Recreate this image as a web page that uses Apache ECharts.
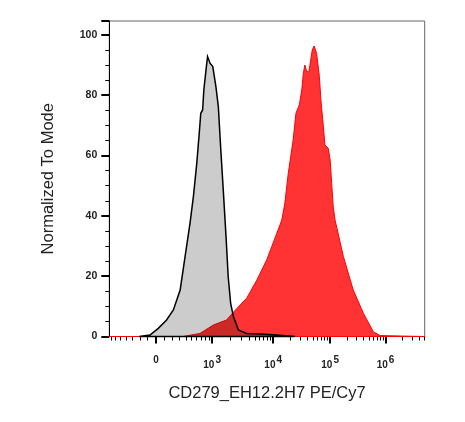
<!DOCTYPE html>
<html>
<head>
<meta charset="utf-8">
<script src="https://cdn.jsdelivr.net/npm/echarts@6/dist/echarts.min.js"></script>
<style>
html,body{margin:0;padding:0;background:#fff;}
#chart{width:465px;height:422px;}
</style>
</head>
<body>
<div id="chart"></div>
<script>
// histogram channels (0-1024 display scale) and normalized counts
var grayX = [97, 132, 159, 186, 208, 230, 246, 262, 273, 284, 292, 297, 303, 307, 314, 319, 327, 336, 346, 354, 362, 370, 379, 386, 394, 403, 419, 446, 489, 543, 603];
var grayY = [0, 0.5, 2.7, 5.5, 8.8, 15.4, 26.5, 37.5, 46.4, 57.4, 67.4, 74, 75.1, 81.8, 88.4, 92.8, 90.6, 89.5, 82.9, 76.2, 61.9, 48.6, 33.1, 19.8, 11, 6.6, 2.2, 1, 0.8, 0.5, 0];
var redX = [0, 240, 294, 338, 381, 414, 446, 479, 511, 543, 560, 570, 581, 589, 597, 606, 617, 625, 630, 635, 641, 648, 654, 659, 665, 673, 682, 687, 695, 700, 711, 717, 722, 727, 733, 760, 792, 825, 857, 879, 1024];
var redY = [0, 0, 1, 3.8, 5.5, 9.3, 12.7, 18.7, 25.4, 34, 38.6, 44.2, 54.1, 59.6, 65.2, 74, 76.8, 81.8, 87.3, 90, 87.8, 87.8, 91.7, 95, 96.3, 93.9, 86.2, 78.4, 69.6, 63.5, 62.4, 58.5, 50.8, 43, 38.6, 26.5, 15.4, 7.7, 1.6, 0.3, 0];

// x axis ticks (fluorescence values) and labels
var majorTicks = [0, 1e3, 1e4, 1e5, 1e6];
var majorLabels = ['0', '10{s|3}', '10{s|4}', '10{s|5}', '10{s|6}'];
var linearTicks = [-700, -600, -500, -400, -300, -200, -100, 100, 200, 300, 400, 500, 600, 700, 800, 900];
var decadeChannels = {3: 333.85, 4: 532, 5: 717, 6: 897, 7: 1077};
var yTicks = [0, 20, 40, 60, 80, 100];

// value -> display channel (linear-ish near zero, log above 10^3)
function toChannel(v){
	if(Math.abs(v) <= 1000){
		return 152 + 110.4*Math.asinh(v/400);
	}
	var l = Math.log10(v), d = Math.floor(l);
	return decadeChannels[d] + (decadeChannels[d+1]-decadeChannels[d])*(l-d);
}

var majorCh = majorTicks.map(toChannel);
var minorCh = linearTicks.map(toChannel);
for(var d=3;d<=6;d++){
	for(var k=2;k<=9;k++){
		var c = toChannel(k*Math.pow(10,d));
		if(c < 1024) minorCh.push(c);
	}
}

function polyItem(xs, ys, style){
	return function(params, api){
		if(params.dataIndex !== 0) return null;
		var pts = [];
		for(var i=0;i<xs.length;i++){
			pts.push(api.coord([xs[i], ys[i]]));
		}
		return {type:'polygon', shape:{points:pts}, style:style, silent:true};
	};
}

var chart = echarts.init(document.getElementById('chart'));
var font = '"Liberation Sans", Arial, sans-serif';
chart.setOption({
	animation:false,
	grid:{left:109.3, top:21, right:40.3, bottom:85.5, show:true, borderColor:'#666', borderWidth:1},
	xAxis:[{
		type:'value', min:0, max:1024,
		name:'CD279_EH12.2H7 PE/Cy7', nameLocation:'middle', nameGap:48,
		nameTextStyle:{fontFamily:font, fontSize:16.5, color:'#222'},
		axisLine:{lineStyle:{color:'#000', width:1}},
		axisTick:{customValues:majorCh, length:7, lineStyle:{color:'#000', width:2}},
		axisLabel:{
			customValues:majorCh, margin:19, fontFamily:font, fontSize:10, fontWeight:'bold', color:'#222',
			formatter:function(v){
				for(var i=0;i<majorCh.length;i++){
					if(Math.abs(majorCh[i]-v) < 0.5) return majorLabels[i];
				}
				return '';
			},
			rich:{s:{fontFamily:font, fontSize:10, fontWeight:'bold', color:'#222', verticalAlign:'top', padding:[0,0,10,1]}}
		},
		splitLine:{show:false}
	},{
		type:'value', min:0, max:1024, position:'bottom',
		axisLine:{show:false},
		axisTick:{customValues:minorCh, length:4, lineStyle:{color:'#000', width:1}},
		axisLabel:{show:false},
		splitLine:{show:false}
	}],
	yAxis:{
		type:'value', min:0, max:104.6, interval:20,
		name:'Normalized To Mode', nameLocation:'middle', nameGap:52,
		nameTextStyle:{fontFamily:font, fontSize:16.5, color:'#222'},
		axisLine:{show:true, lineStyle:{color:'#000', width:1}},
		axisTick:{length:8, lineStyle:{color:'#000', width:2}},
		minorTick:{show:true, splitNumber:4, length:4, lineStyle:{color:'#000', width:1}},
		axisLabel:{margin:12, fontFamily:font, fontSize:10.5, fontWeight:'bold', color:'#222',
			formatter:function(v){ return yTicks.indexOf(v) >= 0 ? String(v) : ''; }},
		splitLine:{show:false}
	},
	series:[{
		type:'custom', xAxisIndex:0, data:[[redX[0], redY[0]]],
		renderItem:polyItem(redX, redY, {fill:'#ff3333', stroke:'#ff0000', lineWidth:1})
	},{
		type:'custom', xAxisIndex:0, data:[[grayX[0], grayY[0]]],
		renderItem:polyItem(grayX, grayY, {fill:'#cccccc', stroke:'#000', lineWidth:1.5, blend:'multiply'})
	}]
});

// the overlap of the two histograms is drawn darker (multiply), as in FlowJo
var zr = chart.getZr();
zr.storage.getDisplayList(true).forEach(function(el){
	if(el.style && el.style.fill === '#cccccc'){
		el.style.blend = 'multiply';
		el.markRedraw();
	}
});
zr.refreshImmediately();
</script>
</body>
</html>
